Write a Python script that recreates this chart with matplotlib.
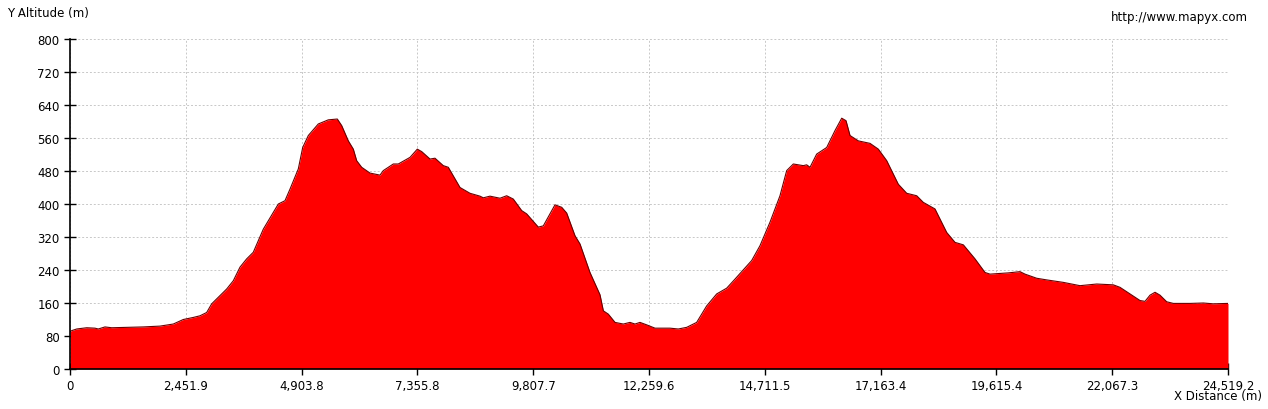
import numpy as np
from matplotlib import pyplot as plt

# distance (m) and altitude (m)
distance = [0, 36, 142, 354, 529, 599, 741, 883, 1201, 1552, 1906, 2187, 2399, 2611,
            2753, 2894, 3000, 3140, 3318, 3458, 3600, 3741, 3881, 4093, 4411, 4552,
            4658, 4834, 4927, 5046, 5257, 5469, 5660, 5753, 5893, 5999, 6070, 6176,
            6352, 6564, 6634, 6846, 6951, 7199, 7354, 7447, 7623, 7728, 7904, 8010,
            8258, 8469, 8681, 8751, 8893, 9105, 9246, 9386, 9564, 9670, 9916, 10022,
            10163, 10269, 10411, 10517, 10693, 10799, 11010, 11222, 11293, 11398,
            11540, 11716, 11857, 11963, 12069, 12211, 12387, 12704, 12880, 13058,
            13269, 13481, 13693, 13905, 14081, 14434, 14610, 14822, 15033, 15175,
            15315, 15421, 15527, 15598, 15669, 15810, 16022, 16198, 16340, 16431,
            16516, 16692, 16939, 17115, 17293, 17538, 17716, 17928, 18067, 18315,
            18563, 18739, 18915, 19162, 19374, 19480, 19867, 20115, 20221, 20468,
            20680, 21032, 21385, 21740, 22091, 22232, 22444, 22656, 22762, 22868,
            22974, 23079, 23221, 23362, 23715, 23998, 24207, 24519.2]
altitude = [90, 93, 97, 100, 99, 97, 102, 100, 101, 102, 104, 109, 120, 125,
            129, 137, 158, 174, 194, 214, 247, 267, 283, 339, 400, 408,
            436, 485, 537, 566, 594, 604, 606, 590, 553, 533, 505, 489,
            475, 470, 481, 497, 497, 513, 533, 527, 509, 511, 493, 489,
            440, 426, 419, 415, 419, 414, 420, 412, 384, 376, 344, 347,
            376, 398, 392, 378, 323, 303, 234, 180, 141, 133,
            113, 109, 113, 109, 113, 107, 99, 99, 97, 101,
            113, 153, 182, 196, 218, 263, 299, 356, 420, 481,
            497, 495, 493, 495, 489, 521, 537, 578, 608, 602,
            566, 553, 547, 533, 505, 448, 426, 420, 404, 388,
            331, 307, 301, 267, 234, 230, 233, 236, 230, 220,
            216, 210, 202, 206, 204, 198, 182, 166, 164, 179,
            186, 179, 163, 159, 159, 160, 158, 159]

x_ticks = [0, 2451.9, 4903.8, 7355.8, 9807.7, 12259.6, 14711.5, 17163.4,
           19615.4, 22067.3, 24519.2]
x_labels = ["0", "2,451.9", "4,903.8", "7,355.8", "9,807.7", "12,259.6",
            "14,711.5", "17,163.4", "19,615.4", "22,067.3", "24,519.2"]
y_ticks = [0, 80, 160, 240, 320, 400, 480, 560, 640, 720, 800]

fig = plt.figure(figsize=(12.68, 4.10), dpi=100)
ax = fig.add_axes([70 / 1268, 1 - 370 / 410, 1158 / 1268, 330 / 410])

ax.fill_between(distance, altitude, 0, color="#ff0000", lw=0, zorder=2)
ax.plot(distance, altitude, color="#6a0000", lw=0.8, zorder=3)

ax.set_xlim(0, 24519.2)
ax.set_ylim(0, 800)
ax.set_xticks(x_ticks)
ax.set_xticklabels(x_labels)
ax.set_yticks(y_ticks)
ax.grid(True, color="#c8c8c8", linestyle=(0, (2, 2)), linewidth=0.7, zorder=0)

for side in ["top", "right"]:
    ax.spines[side].set_visible(False)
for side in ["left", "bottom"]:
    ax.spines[side].set_linewidth(1.2)
    ax.spines[side].set_zorder(4)
ax.tick_params(direction="inout", length=9, width=1, labelsize=8.5, pad=3)

fig.text(7 / 1268, 1 - 13 / 410, "Y Altitude (m)", fontsize=8.5, va="center", ha="left")
fig.text(1262 / 1268, 1 - 397 / 410, "X Distance (m)", fontsize=8.5, va="center", ha="right")
fig.text(1248 / 1268, 1 - 18 / 410, "http://www.mapyx.com", fontsize=8.5, va="center", ha="right")

fig.savefig("out.png", dpi=100)
